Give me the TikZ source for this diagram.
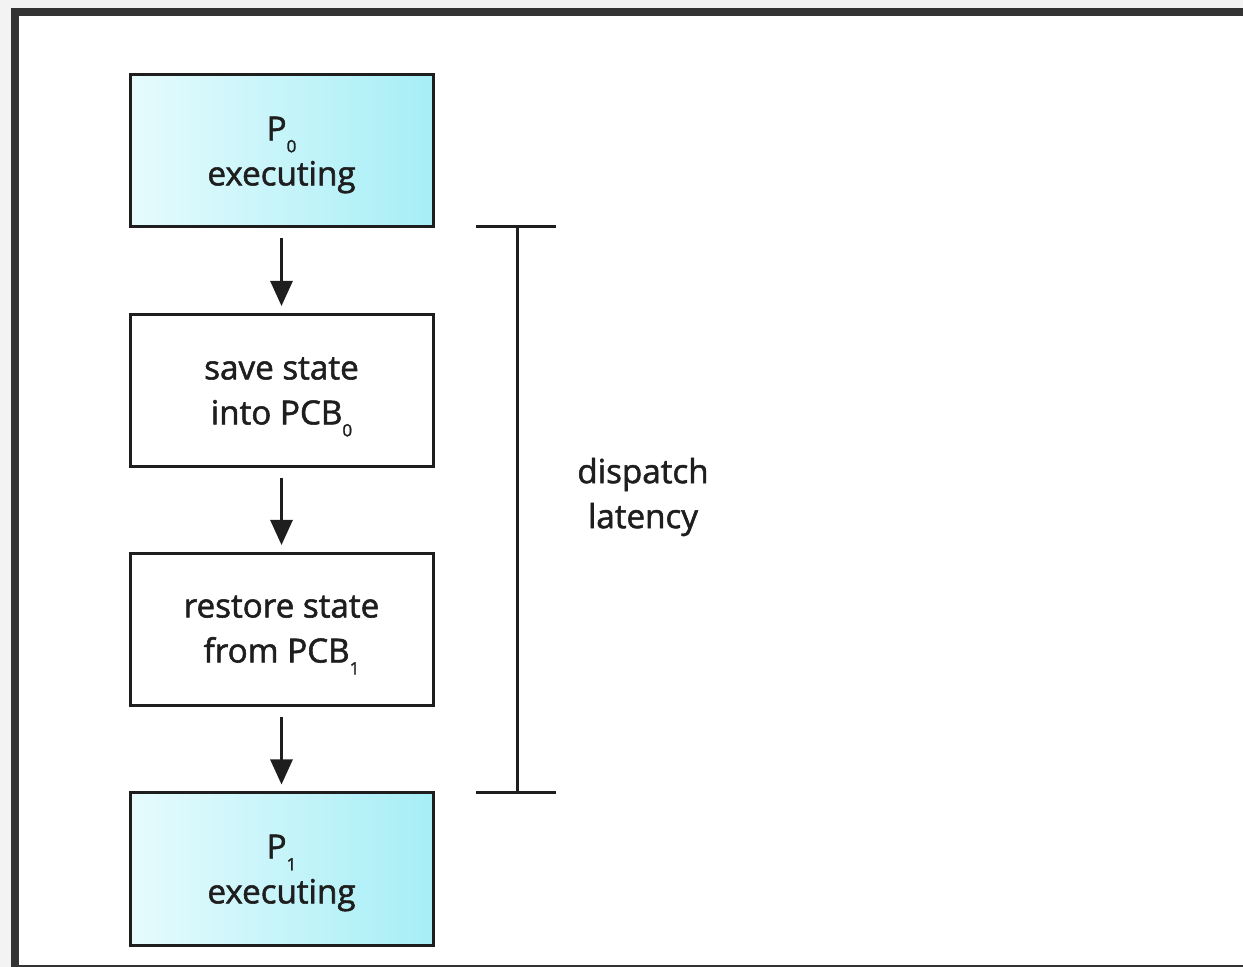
\documentclass[tikz,border=0pt]{standalone}
\usepackage{fontspec}
\setmainfont{Open Sans}
\newfontfamily\labelfont{Open Sans}[FakeBold=1.6]
\usetikzlibrary{arrows.meta}
\definecolor{frame}{HTML}{333333}
\definecolor{outer}{HTML}{F3F3F3}
\definecolor{ink}{HTML}{1E1E1E}
\definecolor{cyanL}{HTML}{E6FBFD}
\definecolor{cyanR}{HTML}{A6EEF6}
\newcommand{\lowsub}[1]{\raisebox{-0.36em}{\fontsize{8.5pt}{8.5pt}\selectfont #1}}
\tikzset{
  stepbox/.style={draw=ink, line width=1.5pt, minimum width=151.5pt, minimum height=76pt,
    inner sep=0pt},
  procbox/.style={stepbox, left color=cyanL, right color=cyanR},
  steptext/.style={align=center, text=ink, inner sep=0pt,
    font=\labelfont\fontsize{16.6pt}{22.5pt}\selectfont},
  flow/.style={draw=ink, line width=1.4pt, -{Triangle[length=12.5pt,width=11pt]}},
  bracket/.style={draw=ink, line width=1.5pt},
}
\begin{document}
\begin{tikzpicture}[x=0.5pt, y=-0.5pt]
  \useasboundingbox (0,0) rectangle (1243,967);
  % surrounding frame
  \fill[outer] (0,0) rectangle (1243,967);
  \fill[frame] (11,8) rectangle (1243,967);
  \fill[white] (19,16) rectangle (1243,964.5);

  % steps of the switch
  \node[procbox] (p0) at (281.5,151) {};
  \node[stepbox] (save) at (281.5,390.5) {};
  \node[stepbox] (restore) at (281.5,629.5) {};
  \node[procbox] (p1) at (281.5,869) {};

  \node[steptext] (p0t) at (281.5,155) {P\lowsub{0}\\executing};
  \node[steptext] (savet) at (281.5,397) {save state\\into PCB\lowsub{0}};
  \node[steptext] (restoret) at (281.5,635) {restore state\\from PCB\lowsub{1}};
  \node[steptext] (p1t) at (281.5,873) {P\lowsub{1}\\executing};

  \draw[flow] ([yshift=-5pt]p0.south) -- ([yshift=3.5pt]save.north);
  \draw[flow] ([yshift=-5pt]save.south) -- ([yshift=3.5pt]restore.north);
  \draw[flow] ([yshift=-5pt]restore.south) -- ([yshift=3.5pt]p1.north);

  % latency bracket
  \coordinate (btop) at (517,227);
  \coordinate (bbot) at (517,793);
  \coordinate (btl) at (476,227);
  \coordinate (btr) at (556,227);
  \coordinate (bbl) at (476,793);
  \coordinate (bbr) at (556,793);
  \draw[bracket] (btop) -- (bbot);
  \draw[bracket] (btl) -- (btr);
  \draw[bracket] (bbl) -- (bbr);
  \node[steptext] (lat) at (643,497) {dispatch\\latency};
\end{tikzpicture}
\end{document}
